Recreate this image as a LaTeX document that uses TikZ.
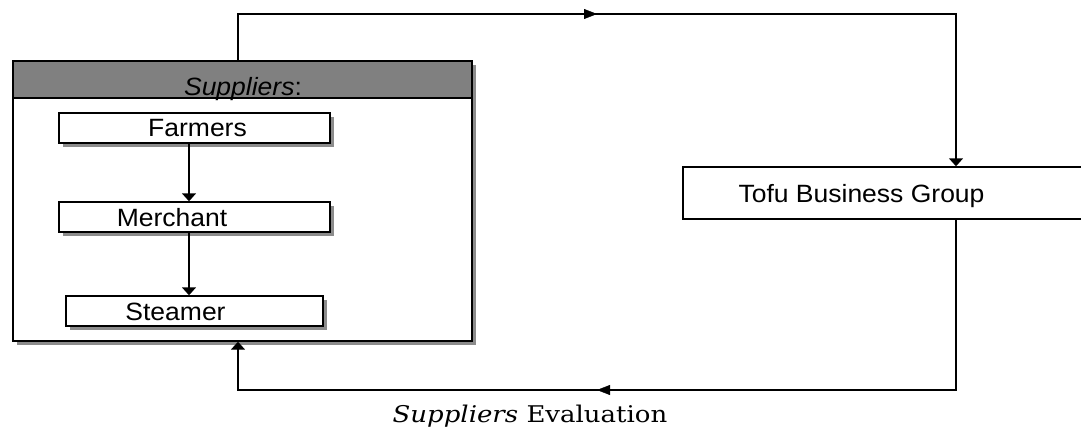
\documentclass[tikz,border=0pt]{standalone}
\usepackage{fontspec}
\newfontfamily\arialfont[FakeStretch=1.06]{Liberation Sans}
\newfontfamily\captionfont[FakeStretch=1.13]{DejaVu Serif}
\usetikzlibrary{arrows.meta,shadows,decorations.markings,calc}

\tikzset{
  line/.style={line width=1.4pt, draw=black},
  arr/.style={line, -{Triangle[width=14pt,length=8pt]}},
  midarrow/.style={postaction={decorate}, decoration={markings,
      mark=at position 0.5 with {\arrow{Triangle[width=10pt,length=13pt]}}}},
  boxshadow/.style={drop shadow={shadow xshift=4pt, shadow yshift=-4pt,
      opacity=1, fill=black!45}},
  outerbox/.style={line, fill=white, boxshadow, inner sep=0pt},
  stepbox/.style={line, fill=white, boxshadow, inner sep=0pt},
  plainbox/.style={line, fill=white, inner sep=0pt},
  header/.style={line, fill=black!50, inner sep=0pt},
  lbl/.style={font=\arialfont\fontsize{25}{30}\selectfont, anchor=base, inner sep=0pt},
  evallbl/.style={font=\captionfont\fontsize{23}{28}\selectfont, anchor=base, inner sep=0pt},
}

\begin{document}
\begin{tikzpicture}[x=1pt, y=-1pt]
  \useasboundingbox (0,0) rectangle (1081,431);

  % supplier chain container
  \node[outerbox, minimum width=459pt, minimum height=280pt] (sup) at (242.5,201) {};
  \node[header, minimum width=459pt, minimum height=37pt] (hdr) at (242.5,79.5) {};
  \node[lbl] (hdrtext) at (243,95) {\itshape Suppliers\upshape:};

  % chain steps
  \node[stepbox, minimum width=271pt, minimum height=30pt] (farm) at (194.5,128) {};
  \node[stepbox, minimum width=271pt, minimum height=30pt] (merch) at (194.5,217) {};
  \node[stepbox, minimum width=257pt, minimum height=30pt] (steam) at (194.5,311) {};
  \node[lbl] (farmtext) at (197.5,136) {Farmers};
  \node[lbl] (merchtext) at (172,226) {Merchant};
  \node[lbl] (steamtext) at (175.5,320) {Steamer};

  \draw[arr] ([xshift=-5.5pt]farm.south) -- ([xshift=-5.5pt]merch.north);
  \draw[arr] ([xshift=-5.5pt]merch.south) -- ([xshift=-5.5pt]steam.north);

  % business group
  \node[plainbox, minimum width=399pt, minimum height=52pt] (tofu) at (882.5,193) {};
  \node[lbl] (tofutext) at (861.5,202) {Tofu Business Group};

  % feedback loop
  \coordinate (c1) at (238,14);
  \coordinate (c2) at (956,14);
  \coordinate (c3) at (956,390);
  \coordinate (c4) at (238,390);

  \draw[arr] (sup.north -| c1) -- (c1) -- (c2) -- (tofu.north -| c2);
  \path[midarrow] (c1) -- (c2);
  \draw[arr] (tofu.south -| c3) -- (c3) -- (c4) -- (sup.south -| c4);
  \path[midarrow] (c3) -- (c4);

  \node[evallbl] (eval) at (530,422) {\textit{Suppliers} Evaluation};
\end{tikzpicture}
\end{document}
